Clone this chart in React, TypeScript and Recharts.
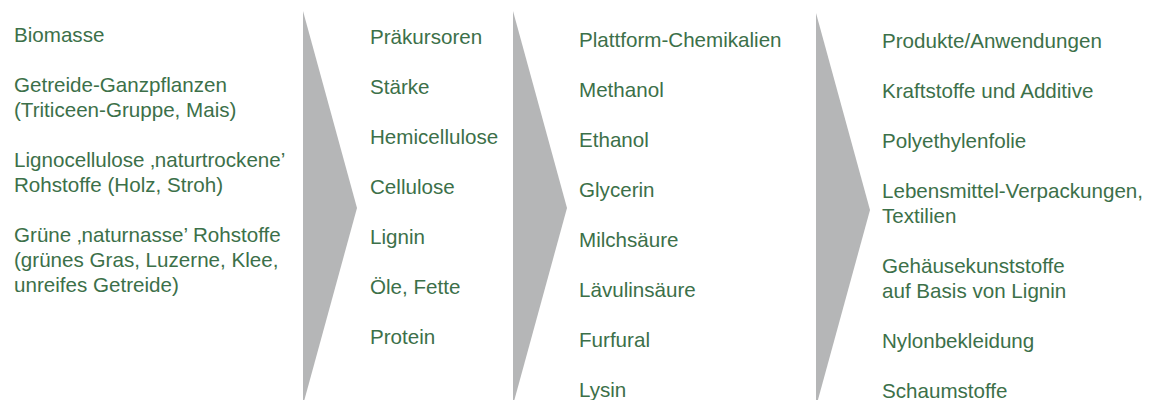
import React from 'react'
import { ScatterChart, Scatter, XAxis, YAxis } from 'recharts'

const WIDTH = 1156
const HEIGHT = 400
const TEXT_COLOR = '#3c7049'
const ARROW_COLOR = '#b5b6b7'
const FONT = '"Liberation Sans", Arial, sans-serif'

// one array per stage, first entry is the heading, "\n" breaks a line
const biomasse = [
  'Biomasse',
  'Getreide-Ganzpflanzen\n(Triticeen-Gruppe, Mais)',
  'Lignocellulose \u201Anaturtrockene\u2019\nRohstoffe (Holz, Stroh)',
  'Grüne \u201Anaturnasse\u2019 Rohstoffe\n(grünes Gras, Luzerne, Klee,\nunreifes Getreide)',
]
const praekursoren = ['Präkursoren', 'Stärke', 'Hemicellulose', 'Cellulose', 'Lignin', 'Öle, Fette', 'Protein']
const plattform = [
  'Plattform-Chemikalien',
  'Methanol',
  'Ethanol',
  'Glycerin',
  'Milchsäure',
  'Lävulinsäure',
  'Furfural',
  'Lysin',
]
const produkte = [
  'Produkte/Anwendungen',
  'Kraftstoffe und Additive',
  'Polyethylenfolie',
  'Lebensmittel-Verpackungen,\nTextilien',
  'Gehäusekunststoffe\nauf Basis von Lignin',
  'Nylonbekleidung',
  'Schaumstoffe',
]

const columns = [biomasse, praekursoren, plattform, produkte]
const columnX = [14, 370, 579, 882]
const columnTop = [34, 36, 39, 40]
// chevrons between the stages: left edge and tip height
const arrowX = [303, 513, 816]
const arrowY = [208, 208, 210]

const ROW_STEP = 50
const LINE_STEP = 25

const labelPoints = columns.flatMap((entries, c) => {
  let y = columnTop[c]
  return entries.map((entry) => {
    const lines = entry.split('\n')
    const point = { x: columnX[c], y, lines }
    y += ROW_STEP + LINE_STEP * (lines.length - 1)
    return point
  })
})

const arrowPoints = arrowX.map((x, i) => ({ x, y: arrowY[i] }))

const LabelShape = ({ cx, cy, payload }: any) => (
  <text
    x={cx}
    y={cy}
    fill={TEXT_COLOR}
    fontFamily={FONT}
    fontSize={20.6}
    dominantBaseline="central"
    textAnchor="start"
  >
    {payload.lines.map((line: string, i: number) => (
      <tspan key={i} x={cx} dy={i === 0 ? 0 : LINE_STEP}>
        {line}
      </tspan>
    ))}
  </text>
)

const ArrowShape = ({ cx, cy }: any) => (
  <polygon points={`${cx},${cy - 197} ${cx + 54},${cy} ${cx},${cy + 197}`} fill={ARROW_COLOR} />
)

export default function App() {
  return (
    <div style={{ position: 'absolute', left: 0, top: 0, background: '#fff' }}>
      <ScatterChart width={WIDTH} height={HEIGHT} margin={{ top: 0, right: 0, bottom: 0, left: 0 }}>
        <XAxis type="number" dataKey="x" domain={[0, WIDTH]} hide />
        <YAxis type="number" dataKey="y" domain={[0, HEIGHT]} reversed hide />
        <Scatter data={arrowPoints} shape={<ArrowShape />} isAnimationActive={false} />
        <Scatter data={labelPoints} shape={<LabelShape />} isAnimationActive={false} />
      </ScatterChart>
    </div>
  )
}
